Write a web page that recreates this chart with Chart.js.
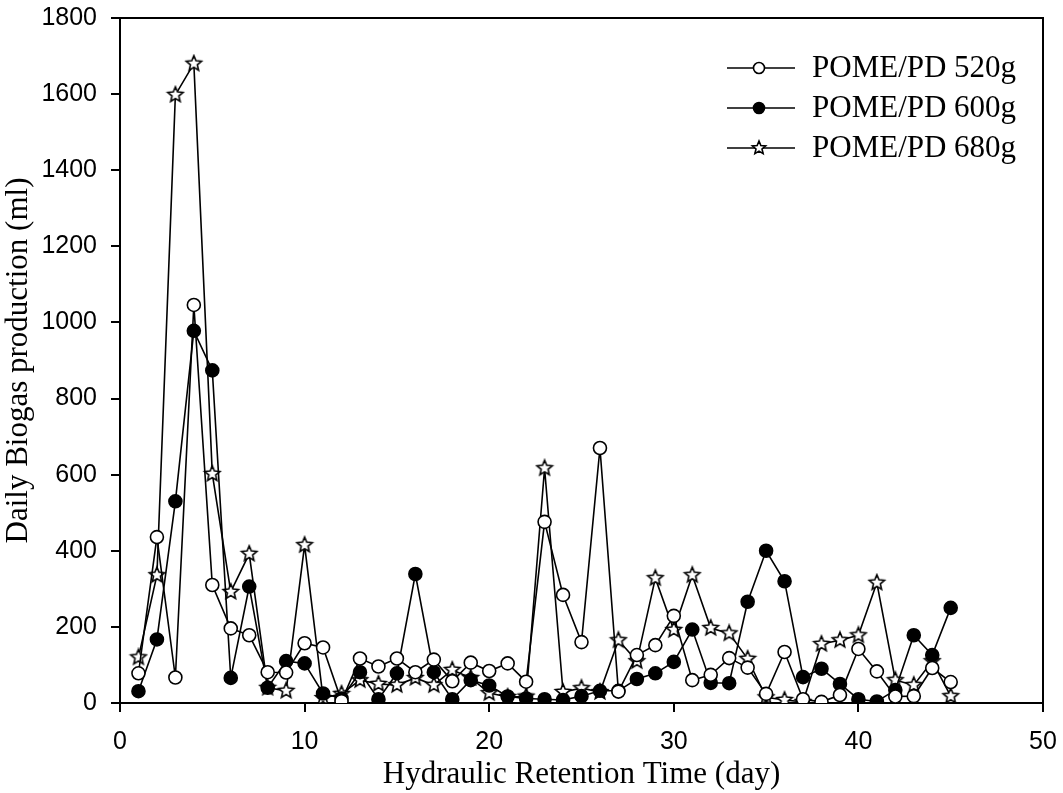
<!DOCTYPE html>
<html><head><meta charset="utf-8">
<script src="https://cdn.jsdelivr.net/npm/chart.js@4/dist/chart.umd.min.js"></script>
<style>html,body{margin:0;padding:0;background:#fff}canvas{display:block}</style>
</head><body>
<canvas id="c" width="1063" height="793"></canvas>
<script>
const days = [1,2,3,4,5,6,7,8,9,10,11,12,13,14,15,16,17,18,19,20,21,22,23,24,25,26,27,28,29,30,31,32,33,34,35,36,37,38,39,40,41,42,43,44,45];
const pome520 = [78,436,67,1046,310,196,178,81,80,157,146,5,117,96,117,81,114,57,106,84,104,56,476,284,160,670,30,126,152,229,60,74,118,93,24,134,10,3,21,142,83,17,18,92,55];
const pome600 = [31,167,530,978,874,66,306,40,110,104,25,12,81,10,78,339,81,10,60,46,17,12,10,8,18,32,32,63,78,108,193,53,52,266,400,320,68,90,50,10,4,34,178,126,250];
const pome680 = [120,336,1598,1680,602,292,392,40,32,415,13,24,60,50,47,66,47,87,66,26,16,17,617,29,39,29,165,110,328,192,336,197,183,116,15,8,3,155,165,178,316,60,47,110,18];
const seriesNames = ['POME/PD 520g','POME/PD 600g','POME/PD 680g'];
const xTicks = [0,10,20,30,40,50];
const yTicks = [0,200,400,600,800,1000,1200,1400,1600,1800];

function makeStar(r){
  const s = Math.ceil(2*r+4);
  const c = document.createElement('canvas'); c.width = s; c.height = s;
  const g = c.getContext('2d');
  g.beginPath();
  for(let i=0;i<10;i++){
    const rr = i%2===0 ? r : r*0.45;
    const a = -Math.PI/2 + i*Math.PI/5;
    const x = s/2 + rr*Math.cos(a), y = s/2 + rr*Math.sin(a);
    if(i===0) g.moveTo(x,y); else g.lineTo(x,y);
  }
  g.closePath(); g.fillStyle='#fff'; g.fill(); g.lineWidth=1.6; g.strokeStyle='#000'; g.stroke();
  return c;
}
const starImg = makeStar(8);
const starSmall = makeStar(7);

const ds = (label, data, style) => Object.assign({
  label, data: days.map((d,i)=>({x:d,y:data[i]})),
  borderColor:'#000', borderWidth:1.6, pointBorderColor:'#000', pointBorderWidth:1.6,
  tension:0, fill:false
}, style);

const serif = '"Liberation Serif", "Times New Roman", serif';
const sans = '"Liberation Sans", Arial, sans-serif';

const frame = {
  id:'frame',
  afterDraw(chart){
    const {ctx, chartArea:a} = chart;
    ctx.save();
    ctx.strokeStyle='#000'; ctx.lineWidth=2;
    ctx.beginPath(); ctx.moveTo(a.left,a.top); ctx.lineTo(a.right,a.top); ctx.lineTo(a.right,a.bottom); ctx.stroke();
    // legend
    const rows = [68,108,148];
    ctx.font = '31px ' + serif;
    ctx.textBaseline='middle';
    rows.forEach((y,i)=>{
      ctx.lineWidth=1.6; ctx.strokeStyle='#000';
      ctx.beginPath(); ctx.moveTo(727,y); ctx.lineTo(795,y); ctx.stroke();
      if(i===0){ctx.beginPath();ctx.arc(759,y,5.5,0,Math.PI*2);ctx.fillStyle='#fff';ctx.fill();ctx.stroke();}
      else if(i===1){ctx.beginPath();ctx.arc(759,y,5.5,0,Math.PI*2);ctx.fillStyle='#000';ctx.fill();ctx.stroke();}
      else { ctx.drawImage(starSmall, 759-starSmall.width/2, y-starSmall.height/2); }
      ctx.fillStyle='#000';
      ctx.fillText(seriesNames[i], 812, y+1);
    });
    ctx.restore();
  }
};

new Chart(document.getElementById('c'), {
  type:'line',
  data:{ datasets:[
    ds(seriesNames[0], pome520, {pointStyle:'circle', pointRadius:6.5, pointBackgroundColor:'#fff'}),
    ds(seriesNames[1], pome600, {pointStyle:'circle', pointRadius:6.5, pointBackgroundColor:'#000'}),
    ds(seriesNames[2], pome680, {pointStyle:starImg, pointRadius:8})
  ]},
  options:{
    responsive:false, animation:false, devicePixelRatio:1,
    layout:{padding:{left:0, top:18, right:20, bottom:0}},
    plugins:{legend:{display:false}, tooltip:{enabled:false}},
    scales:{
      x:{type:'linear', min:0, max:50,
        afterBuildTicks(s){ s.ticks = xTicks.map(v=>({value:v})); },
        afterFit(s){ s.height = 90; s.paddingLeft = 0; s.paddingRight = 0; },
        grid:{drawOnChartArea:false, drawTicks:true, tickLength:9, color:'#000', lineWidth:2},
        border:{display:true, color:'#000', width:2},
        ticks:{color:'#000', padding:15, maxRotation:0, callback:v=>String(v), font:{family:sans, size:25}},
        title:{display:true, text:'Hydraulic Retention Time (day)', color:'#000', padding:{top:0,bottom:0},
          font:{family:serif, size:31}}
      },
      y:{type:'linear', min:0, max:1800,
        afterBuildTicks(s){ s.ticks = yTicks.map(v=>({value:v})); },
        afterFit(s){ s.width = 120; s.paddingTop = 0; s.paddingBottom = 0; },
        grid:{drawOnChartArea:false, drawTicks:true, tickLength:9, color:'#000', lineWidth:2},
        border:{display:true, color:'#000', width:2},
        ticks:{color:'#000', padding:14, callback:v=>String(v), font:{family:sans, size:25}},
        title:{display:true, text:'Daily Biogas production (ml)', color:'#000', padding:{top:0,bottom:0},
          font:{family:serif, size:31}}
      }
    }
  },
  plugins:[frame]
});
</script>
</body></html>
